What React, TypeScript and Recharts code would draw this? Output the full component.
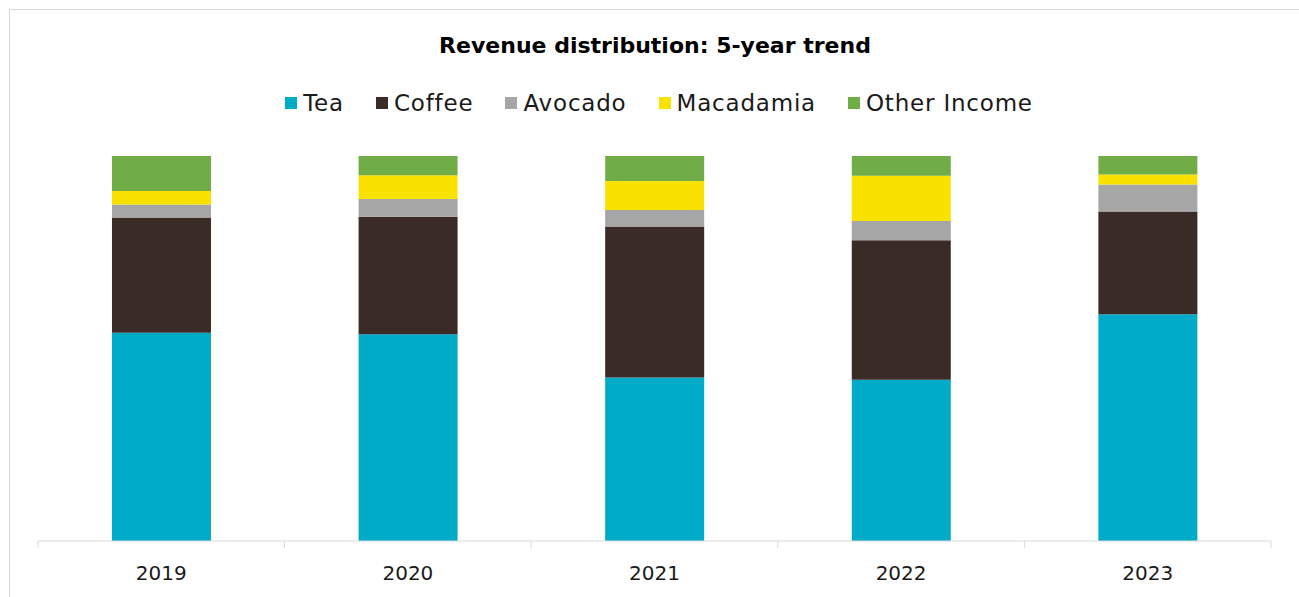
import React from "react";
import { BarChart, Bar, XAxis, YAxis, Legend } from "recharts";

const years = ["2019", "2020", "2021", "2022", "2023"];
const tea = [54.1, 53.7, 42.5, 41.9, 58.9];
const coffee = [29.9, 30.5, 39.2, 36.2, 26.7];
const avocado = [3.4, 4.6, 4.3, 5.0, 7.0];
const macadamia = [3.5, 6.2, 7.5, 11.8, 2.6];
const otherIncome = [9.1, 5.0, 6.5, 5.1, 4.8];

const seriesNames = ["Tea", "Coffee", "Avocado", "Macadamia", "Other Income"];
const seriesColors = ["#00ABC8", "#3B2B27", "#A6A6A6", "#F9E200", "#70AD47"];

const data = years.map((year, i) => ({
  year,
  Tea: tea[i],
  Coffee: coffee[i],
  Avocado: avocado[i],
  Macadamia: macadamia[i],
  "Other Income": otherIncome[i],
}));

const FONT = "'DejaVu Sans', sans-serif";
const PLOT_LEFT = 38;
const PLOT_RIGHT = 1271;
const BAND = (PLOT_RIGHT - PLOT_LEFT) / years.length;

// Excel style: tick marks sit between categories
const YearTick = ({ x, y, payload, index }: any) => {
  const axisY = y - 8;
  return (
    <g>
      <line x1={x - BAND / 2} x2={x - BAND / 2} y1={axisY} y2={axisY + 7} stroke="#d9d9d9" />
      {index === years.length - 1 && (
        <line x1={x + BAND / 2} x2={x + BAND / 2} y1={axisY} y2={axisY + 7} stroke="#d9d9d9" />
      )}
      <text x={x} y={y + 31} textAnchor="middle" fontSize={20} fill="#1a1a1a" fontFamily={FONT}>
        {payload.value}
      </text>
    </g>
  );
};

const LegendContent = () => (
  <div
    style={{
      display: "flex",
      justifyContent: "center",
      gap: 32,
      fontFamily: FONT,
      fontSize: 23,
      letterSpacing: 0.8,
      color: "#1a1a1a",
    }}
  >
    {seriesNames.map((name, i) => (
      <div key={name} style={{ display: "flex", alignItems: "center", gap: 6 }}>
        <span style={{ width: 12, height: 12, background: seriesColors[i], display: "inline-block" }} />
        <span>{name}</span>
      </div>
    ))}
  </div>
);

export default function App() {
  return (
    <div
      style={{
        position: "absolute",
        left: 0,
        top: 0,
        width: 1299,
        height: 597,
        overflow: "hidden",
        background: "#fff",
      }}
    >
      <div
        style={{
          position: "absolute",
          left: 9,
          top: 9,
          width: 1400,
          height: 700,
          border: "1px solid #d9d9d9",
        }}
      />
      <div
        style={{
          position: "absolute",
          left: 10,
          width: 1290,
          top: 33,
          textAlign: "center",
          fontFamily: FONT,
          fontWeight: "bold",
          fontSize: 22,
          color: "#000",
        }}
      >
        Revenue distribution: 5-year trend
      </div>
      <BarChart
        width={1299}
        height={597}
        data={data}
        stackOffset="expand"
        barCategoryGap="30%"
        margin={{ top: 156, right: 1299 - PLOT_RIGHT, bottom: 26, left: PLOT_LEFT }}
      >
        <XAxis
          dataKey="year"
          height={30}
          axisLine={{ stroke: "#d9d9d9" }}
          tickLine={false}
          tick={<YearTick />}
          interval={0}
        />
        <YAxis hide domain={[0, 1]} />
        <Legend
          layout="horizontal"
          verticalAlign="middle"
          align="center"
          content={<LegendContent />}
          wrapperStyle={{ top: 90, left: 14, width: 1290 }}
        />
        {seriesNames.map((name, i) => (
          <Bar
            key={name}
            dataKey={name}
            stackId="rev"
            fill={seriesColors[i]}
            isAnimationActive={false}
          />
        ))}
      </BarChart>
    </div>
  );
}
